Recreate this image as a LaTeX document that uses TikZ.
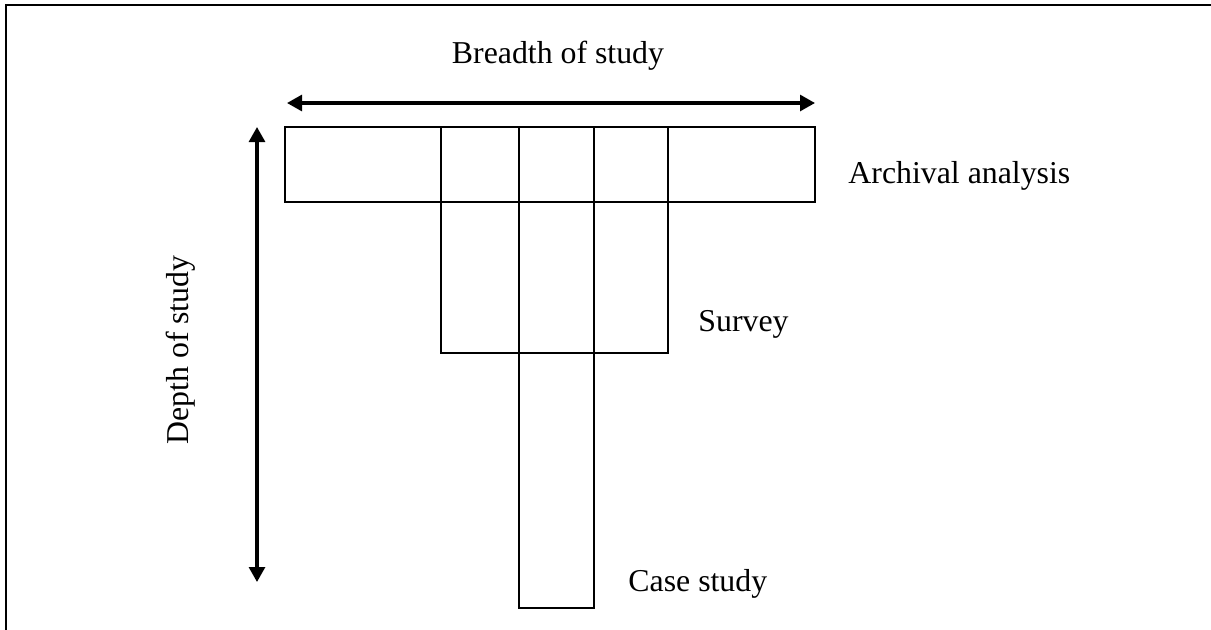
\documentclass[tikz,border=0pt]{standalone}
\usepackage{fontspec}
\setmainfont{Liberation Serif}
\usetikzlibrary{arrows.meta,positioning,calc}

\begin{document}
\begin{tikzpicture}[
  x=0.44pt, y=-0.44pt,
  font=\fontsize{14}{16}\selectfont,
  >={Triangle[length=6.6pt, width=7pt]},
  blk/.style={draw, line width=0.9pt, inner sep=0pt, outer sep=0pt},
  lbl/.style={inner sep=0pt, anchor=base west},
  dim/.style={<->, line width=1.4pt}]

\useasboundingbox (0,0) rectangle (1211,629);
\draw[line width=0.9pt] (1215,5) -- (6,5) -- (6,633);

% ===== blocks =====
\node[blk, minimum width=530*0.44pt, minimum height=75*0.44pt,  anchor=north west] (arch) at (285,127) {};
\node[blk, minimum width=227*0.44pt, minimum height=226*0.44pt, anchor=north west] (surv) at (441,127) {};
\node[blk, minimum width=75*0.44pt,  minimum height=481*0.44pt, anchor=north west] (case) at (519,127) {};

% ===== labels =====
\node[lbl] (la) at (848,183) {Archival analysis};
\node[lbl] (ls) at (698,331) {Survey};
\node[lbl] (lc) at (628,591) {Case study};
\node[inner sep=0pt, anchor=base] (lb) at (558,63) {Breadth of study};
\node[inner sep=0pt, rotate=90] (ld) at (181,350) {Depth of study};

% ===== arrows =====
\coordinate (bl) at (287,103);
\coordinate (br) at (815,103);
\coordinate (dt) at (257,127);
\coordinate (db) at (257,582);
\draw[dim] (bl) -- (br);
\draw[dim] (dt) -- (db);

\end{tikzpicture}
\end{document}
